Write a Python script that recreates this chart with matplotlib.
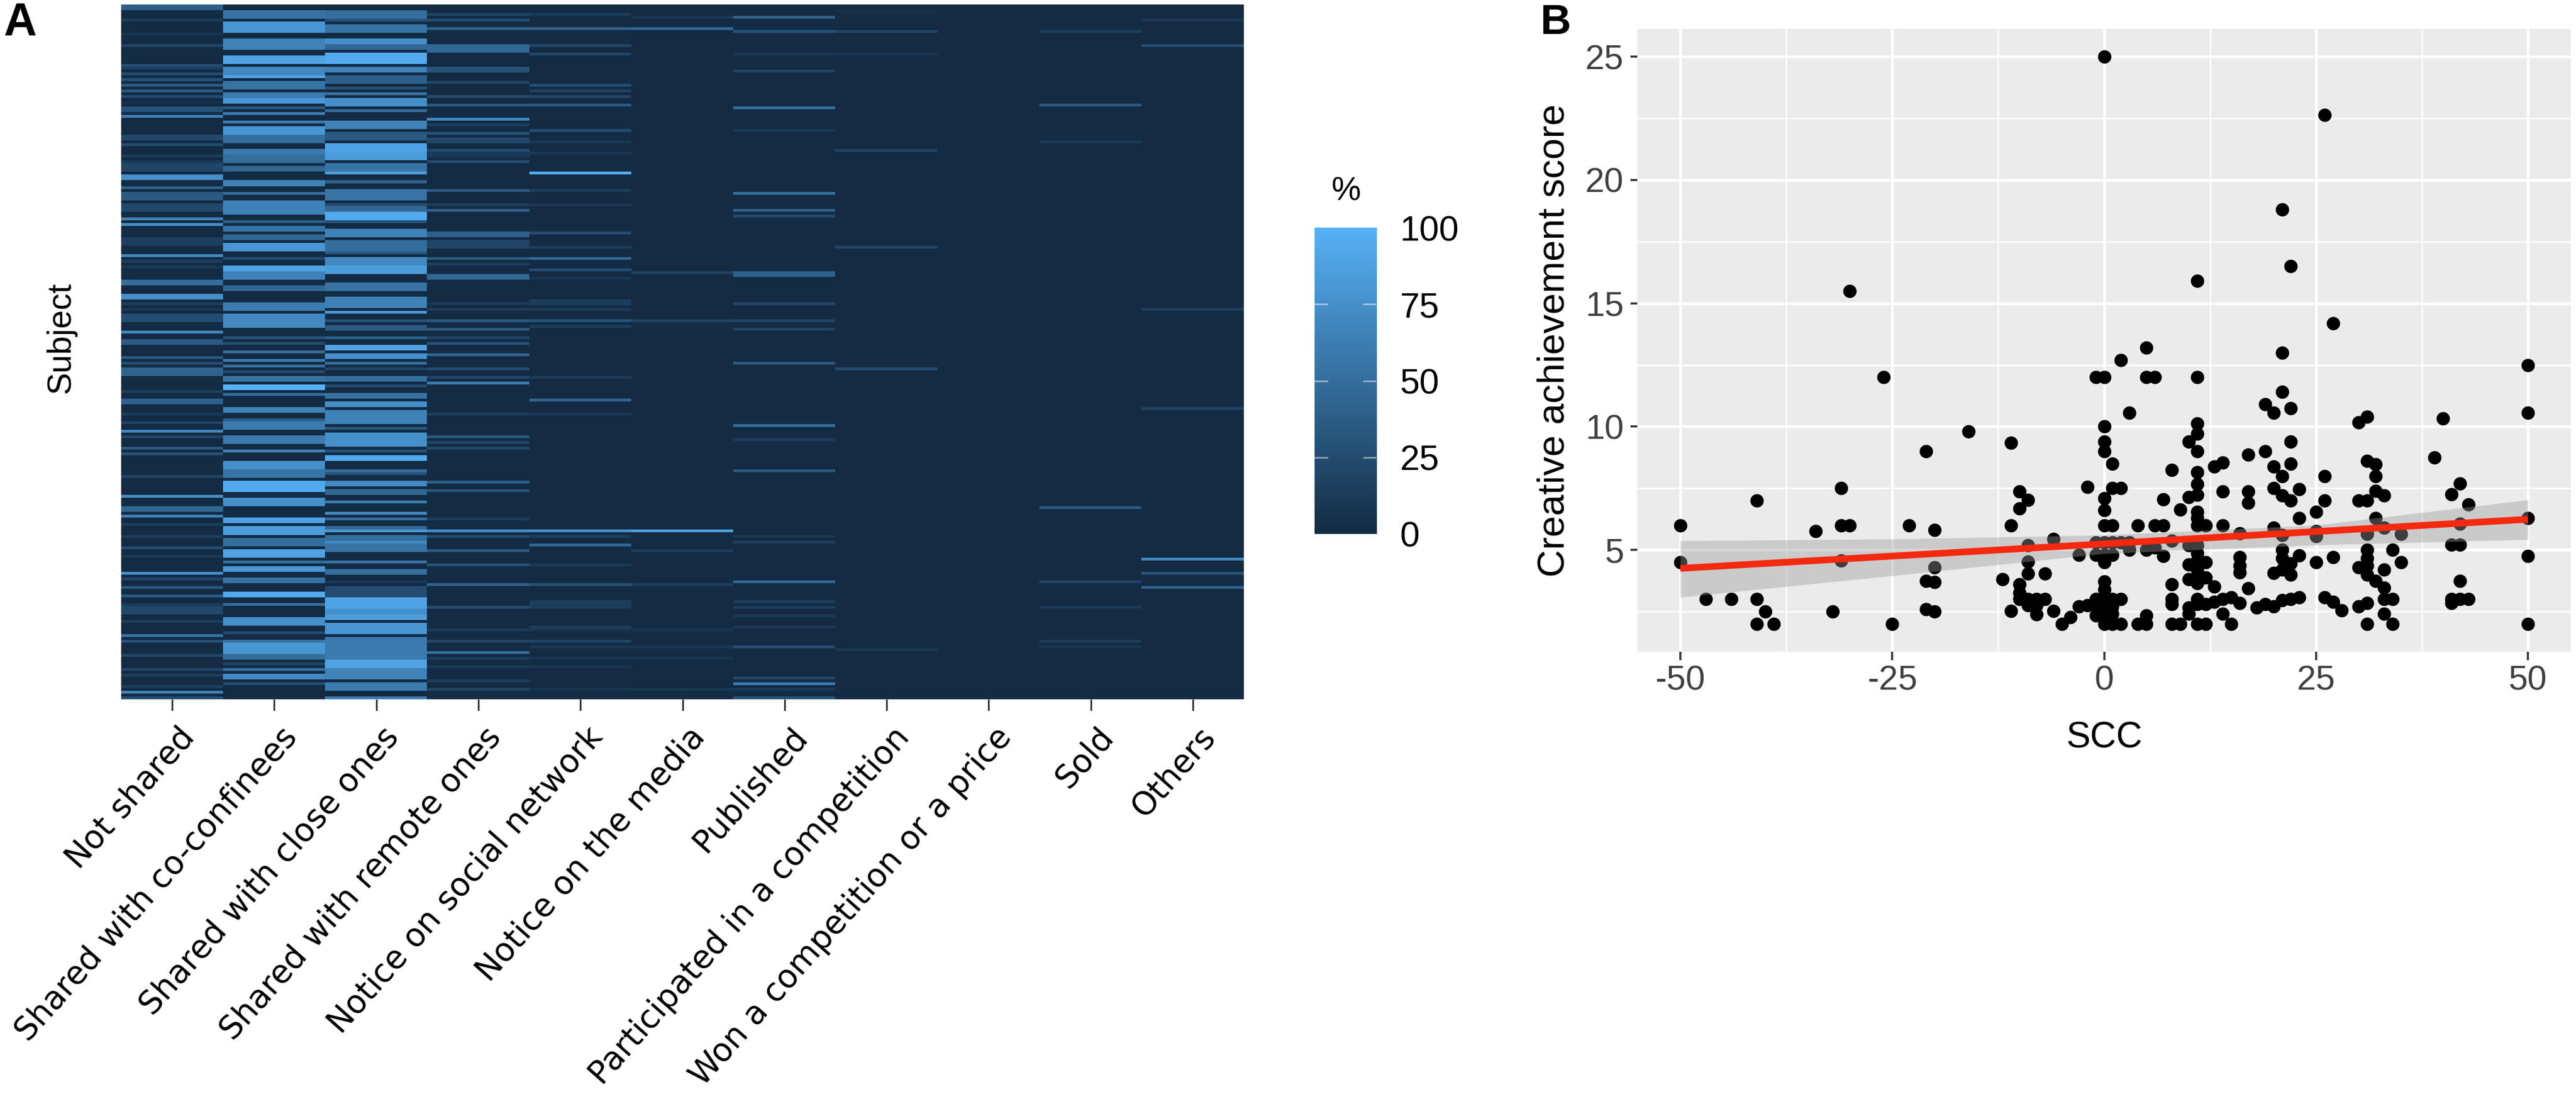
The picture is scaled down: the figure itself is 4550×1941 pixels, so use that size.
import numpy as np
from matplotlib import pyplot as plt
from matplotlib.colors import LinearSegmentedColormap
from matplotlib.transforms import ScaledTranslation

W, H = 4550, 1941
plt.rcParams['font.family'] = ['Liberation Sans', 'DejaVu Sans']

# panel A, stripes per column as (first subject, last subject, percent)
n_subjects = 245
categories = ['Not shared', 'Shared with co-confinees', 'Shared with close ones',
              'Shared with remote ones', 'Notice on social network', 'Notice on the media',
              'Published', 'Participated in a competition', 'Won a competition or a price',
              'Sold', 'Others']

not_shared = [(0,1,40),(5,5,15),(10,10,8),(14,14,20),(21,21,25),(22,22,15),(24,24,25),(26,26,30),
    (28,28,35),(30,30,35),(32,32,25),(34,34,5),(36,37,30),(39,39,65),(46,47,22),(49,49,25),(53,53,12),
    (55,55,12),(56,58,20),(60,61,75),(64,64,40),(66,68,35),(70,72,22),(75,75,65),(77,77,75),(82,84,15),
    (88,88,70),(90,90,15),(92,92,10),(97,98,50),(102,103,75),(105,105,15),(107,107,10),(109,111,25),
    (115,115,70),(118,119,35),(124,124,35),(126,126,25),(128,130,42),(136,136,15),(139,140,40),
    (144,144,12),(147,147,20),(150,150,70),(152,152,20),(156,156,35),(158,158,30),(166,166,20),
    (173,173,75),(177,178,45),(180,180,65),(183,183,15),(187,187,15),(191,191,25),(194,194,10),
    (200,200,75),(202,202,20),(205,205,35),(208,208,35),(211,211,12),(212,214,22),(217,217,15),
    (222,222,55),(224,224,30),(229,229,20),(234,234,20),(236,236,15),(240,240,15),(242,242,65),(244,244,25)]
shared_confinees = [(2,4,55),(6,9,80),(12,13,65),(14,15,65),(18,20,90),(22,24,70),(25,25,90),(27,29,55),
    (31,32,60),(33,34,80),(36,36,35),(38,38,60),(41,41,60),(43,45,80),(46,48,50),(51,52,60),(53,55,50),
    (57,58,45),(62,63,65),(66,66,50),(69,73,65),(76,76,40),(78,79,55),(81,82,45),(84,86,80),(89,89,25),
    (92,93,90),(94,96,65),(99,100,45),(105,107,60),(109,113,70),(117,117,30),(119,119,25),(122,122,50),
    (125,125,60),(127,127,50),(129,129,25),(131,132,55),(134,135,100),(137,137,50),(142,143,65),
    (146,146,40),(147,149,60),(152,154,60),(157,157,65),(161,163,75),(164,166,55),(168,171,95),
    (174,176,75),(181,182,90),(184,186,85),(188,190,50),(192,194,90),(196,196,50),(198,199,80),
    (202,203,55),(207,208,95),(211,211,50),(216,218,75),(221,221,25),(224,224,55),(225,228,80),
    (229,230,50),(232,232,20),(234,234,50),(236,237,70),(239,239,25)]
shared_close = [(2,4,50),(5,5,30),(7,9,55),(12,13,75),(14,15,45),(17,20,95),(22,23,65),(25,27,40),
    (29,29,30),(31,31,55),(33,35,75),(37,37,50),(41,43,65),(45,47,35),(49,51,90),(52,54,85),(56,58,55),
    (59,59,85),(62,62,40),(65,68,55),(70,70,25),(71,72,45),(73,75,95),(76,76,30),(79,81,65),(83,86,50),
    (87,87,35),(89,91,70),(92,94,85),(98,100,55),(103,106,65),(108,108,80),(111,111,30),(113,114,35),
    (117,117,40),(120,121,90),(123,124,75),(126,126,50),(128,128,20),(131,132,50),(134,134,25),
    (137,138,55),(140,141,75),(143,147,65),(149,149,35),(151,155,75),(157,157,30),(159,160,95),
    (164,164,50),(165,165,30),(168,169,70),(171,172,45),(175,175,60),(179,179,70),(181,181,50),
    (184,184,45),(185,185,80),(187,188,50),(189,189,70),(190,192,55),(196,196,55),(199,200,50),
    (203,203,10),(205,208,25),(209,212,90),(213,214,75),(215,216,85),(218,221,80),(223,230,60),
    (231,233,90),(234,237,65),(239,241,60),(244,244,60)]
shared_remote = [(3,3,18),(5,5,25),(8,8,40),(14,16,45),(22,23,30),(27,27,20),(32,32,25),(35,35,35),
    (40,40,70),(42,42,15),(45,45,30),(47,48,22),(51,51,25),(52,53,12),(55,55,25),(65,65,35),(70,70,15),
    (72,72,40),(80,81,40),(83,85,20),(89,89,35),(91,91,15),(95,96,45),(105,105,12),(107,107,15),
    (111,111,35),(114,114,35),(117,117,20),(119,119,30),(123,123,45),(128,128,25),(131,131,20),
    (133,133,60),(144,144,15),(152,152,35),(154,154,20),(156,156,22),(168,168,40),(171,171,30),
    (181,181,15),(185,185,70),(187,187,25),(192,192,35),(197,197,30),(204,204,40),(212,212,25),
    (220,220,12),(224,224,20),(228,228,50),(230,230,15),(233,233,12),(238,238,15),(241,241,20)]
social_network = [(3,3,12),(8,8,40),(14,14,20),(17,17,20),(28,28,25),(30,30,18),(32,32,22),(35,35,35),
    (44,44,25),(48,48,10),(52,52,10),(59,59,95),(65,65,15),(70,70,10),(80,80,25),(85,85,15),(89,89,45),
    (93,93,25),(96,96,8),(104,105,15),(107,107,12),(111,111,30),(113,113,15),(131,131,12),(139,139,45),
    (144,144,10),(185,185,75),(187,187,15),(190,190,45),(197,197,10),(204,204,30),(210,212,15),
    (219,219,15),(220,220,8),(224,224,20),(226,226,10),(230,230,8),(233,233,8),(241,241,8)]
media = [(4,4,10),(8,8,45),(94,94,18),(111,111,18),(185,185,85),(192,192,15),(204,204,15),(220,220,8),
    (226,226,10),(230,230,8),(241,241,10)]
published = [(4,4,40),(9,9,30),(17,17,10),(23,23,18),(36,36,50),(44,44,10),(66,66,50),(72,72,40),
    (74,74,25),(94,95,40),(105,105,20),(111,111,20),(114,114,18),(126,126,35),(148,148,50),(153,153,15),
    (164,164,35),(187,187,10),(189,189,15),(203,203,45),(210,210,15),(212,212,15),(215,215,12),
    (219,219,10),(226,226,25),(237,237,20),(239,239,60),(241,241,12),(244,244,30)]
competition = [(2,2,5),(9,9,20),(17,17,8),(51,51,18),(85,85,20),(128,128,25),(227,227,10)]
won = []
sold = [(9,9,15),(35,35,35),(48,48,10),(177,177,35),(203,203,20),(212,212,12),(224,224,15),(226,226,8)]
others = [(5,5,10),(14,14,25),(107,107,15),(142,142,18),(195,195,70),(200,200,30),(205,205,40)]

columns = [not_shared, shared_confinees, shared_close, shared_remote, social_network, media,
           published, competition, won, sold, others]
legend_ticks = [0, 25, 50, 75, 100]

# panel B, (SCC, creative achievement score)
left_points = [(-50,6),(-50,4.5),(-47,3),(-44,3),(-41,7),(-41,3),(-41,2),(-40,2.5),(-39,2),(-34,5.77),
    (-32,2.5),(-31,7.5),(-31,6),(-31,4.56),(-30,15.5),(-30,6),(-26,12),(-25,2),(-23,6),(-21,9),(-21,3.75),
    (-21,2.6),(-20,5.8),(-20,4.3),(-20,3.7),(-20,2.5),(-16,9.8),(-12,3.8),(-11,9.34),(-11,6),(-11,2.53),
    (-10,7.36),(-10,6.67),(-10,3.6),(-10,3.25),(-10,3),(-9,7.03),(-9,5.18),(-9,4.53),(-9,4.03),(-9,3),
    (-9,2.75),(-8,3),(-8,2.75),(-8,2.38),(-7,4.04),(-7,3),(-6,5.44),(-6,2.53),(-5,2),(-4,2.27),(-3,4.8),
    (-3,2.7),(-2,7.55),(-2,2.75)]
zero_points = [(-1,12),(-1,5.3),(-1,4.8),(-1,3),(-1,2.7),(-1,2.35),(0,25),(0,12),(0,10),(0,9.4),(0,9),
    (0,7.1),(0,6.6),(0,6),(0,5.3),(0,4.8),(0,4.5),(0,3.72),(0,3.4),(0,3),(0,2.7),(0,2.4),(0,2),(1,8.5),
    (1,7.5),(1,6),(1,5.3),(1,4.8),(1,3),(1,2.7),(1,2.4),(1,2),(2,12.7),(2,7.5),(2,5.3),(2,3),(2,2),
    (3,10.56),(3,5.3),(3,5),(4,6),(4,2),(5,13.2),(5,12),(5,5),(5,2.35),(5,2),(6,12),(6,6),(6,5.1),(7,7.05),
    (7,6),(7,4.75),(8,8.24),(8,5.37),(8,3.6),(8,3),(8,2.8),(8,2),(9,6.63),(9,2)]
mid_points = [(10,9.4),(10,7.13),(10,5.18),(10,4.4),(10,3.8),(10,2.65),(10,2.4),(11,15.9),(11,12),(11,10.13),
    (11,9.7),(11,9),(11,8.16),(11,7.66),(11,7.24),(11,6.55),(11,6.3),(11,6),(11,5.18),(11,4.87),(11,4.56),
    (11,4.2),(11,3.95),(11,3.65),(11,3),(11,2.8),(11,2),(12,6),(12,4.5),(12,3.87),(12,2.8),(12,2),(13,8.39),
    (13,3.5),(13,2.9),(14,8.54),(14,7.36),(14,6),(14,3),(14,2.4),(15,3.07),(15,2),(16,5.67),(16,4.7),
    (16,4.37),(16,4.08),(16,2.85),(17,8.85),(17,7.36),(17,6.9),(17,3.45),(18,2.65),(19,10.9),(19,9),(19,2.8),
    (20,10.56),(20,8.37),(20,7.5),(20,5.9),(20,4.06),(20,2.7),(21,18.8),(21,13),(21,11.4),(21,8),(21,7.2),
    (21,5.6),(21,5),(21,4.65),(21,4.2),(21,2.95),(22,16.5),(22,10.75),(22,9.4),(22,8.5),(22,7),(22,4.46),
    (22,4),(22,3),(23,7.46),(23,6.3),(23,4.77),(23,3.08)]
right_points = [(25,6.55),(25,5.75),(25,5.55),(25,4.5),(26,22.65),(26,8),(26,7),(26,3.08),(27,14.2),(27,4.7),
    (27,2.9),(28,2.55),(30,10.17),(30,7),(30,4.3),(30,2.7),(31,10.4),(31,8.6),(31,7),(31,5.65),(31,5),
    (31,4.65),(31,4.37),(31,4),(31,2.85),(31,2),(32,8.46),(32,8),(32,7.4),(32,6.3),(32,3.75),(33,7.2),
    (33,5.9),(33,4.2),(33,3.46),(33,3),(33,2.4),(34,5),(34,3),(34,2),(35,5.65),(35,4.5),(39,8.75),(40,10.34),
    (41,7.25),(41,5.2),(41,3),(41,2.85),(42,7.7),(42,6.05),(42,5.2),(42,3.75),(42,3),(43,6.85),(43,3),
    (50,12.5),(50,10.56),(50,6.3),(50,4.75),(50,2)]

scc, creative = zip(*(left_points + zero_points + mid_points + right_points))

fit_x = [-50, 50]
fit_y = [4.25, 6.24]
band_x = [-50, -25, 0, 25, 50]
band_low = [3.08, 3.95, 4.85, 5.2, 5.42]
band_high = [5.37, 5.44, 5.6, 6.0, 7.03]


def px_axes(left, top, right, bottom):
    return fig.add_axes([left/W, 1-bottom/H, (right-left)/W, (bottom-top)/H])


def fill_column(stripes):
    col = np.zeros(n_subjects)
    for first, last, pct in stripes:
        col[first:last+1] = pct
    return col


fig = plt.figure(figsize=(W/100, H/100), dpi=100)
heat_cmap = LinearSegmentedColormap.from_list('gg', ['#132B43', '#56B1F7'])

# heatmap
ax = px_axes(214, 8, 2197, 1235)
matrix = np.column_stack([fill_column(c) for c in columns])
ax.imshow(matrix, aspect='auto', cmap=heat_cmap, vmin=0, vmax=100, interpolation='nearest')
for s in ax.spines.values():
    s.set_visible(False)
ax.set_yticks([])
ax.set_xticks(range(len(categories)))
ax.set_xticklabels(categories, rotation=48.5, ha='right', va='top', rotation_mode='anchor',
                   family='DejaVu Sans', fontsize=41)
ax.tick_params(axis='x', length=14.5, width=2.2, color='#333333', pad=14)
for lab in ax.get_xticklabels():
    lab.set_transform(lab.get_transform() + ScaledTranslation(0.10, 0, fig.dpi_scale_trans))
ax.set_ylabel('Subject', fontsize=42.5, labelpad=57, y=0.52)

# legend
cax = px_axes(2322, 402, 2431, 943)
cax.imshow(np.linspace(100, 0, 256)[:, None], aspect='auto', cmap=heat_cmap, vmin=0, vmax=100,
           extent=[0, 1, 0, 100])
for s in cax.spines.values():
    s.set_visible(False)
cax.set_xticks([])
cax.yaxis.tick_right()
cax.set_yticks(legend_ticks)
cax.set_yticklabels(legend_ticks, fontsize=45)
cax.tick_params(axis='y', length=0, pad=30)
for v in legend_ticks[1:-1]:
    cax.plot([0, 0.2], [v, v], color='white', alpha=0.45, lw=2.2)
    cax.plot([0.8, 1], [v, v], color='white', alpha=0.45, lw=2.2)
cax.set_xlim(0, 1)
cax.set_ylim(0, 100)
fig.text(2378/W, 1-338/H, '%', fontsize=42, ha='center', va='center')

# scatter
ax2 = px_axes(2892, 51, 4541, 1151)
ax2.set_facecolor('#EBEBEB')
for s in ax2.spines.values():
    s.set_visible(False)
ax2.set_xlim(-55.07, 55.07)
ax2.set_ylim(0.87, 26.13)
ax2.set_xticks([-50, -25, 0, 25, 50])
ax2.set_xticklabels(['-50', '-25', '0', '25', '50'])
ax2.set_yticks([5, 10, 15, 20, 25])
ax2.set_xticks([-37.5, -12.5, 12.5, 37.5], minor=True)
ax2.set_yticks([2.5, 7.5, 12.5, 17.5, 22.5], minor=True)
ax2.grid(True, which='major', color='white', lw=3.4, zorder=1)
ax2.grid(True, which='minor', color='white', lw=1.8, zorder=1)
ax2.set_axisbelow(True)
ax2.tick_params(axis='x', which='major', length=11, width=2.6, color='#333333', labelsize=44,
                labelcolor='#404040', pad=6)
ax2.tick_params(axis='y', which='major', length=9, width=2.6, color='#333333', labelsize=44,
                labelcolor='#404040', pad=8)
ax2.tick_params(which='minor', length=0)
ax2.scatter(scc, creative, s=290, color='black', linewidths=0, zorder=3)
ax2.fill_between(band_x, band_low, band_high, color='#999999', alpha=0.4, linewidth=0, zorder=4)
ax2.plot(fit_x, fit_y, color='#F4290F', lw=8.5, solid_capstyle='butt', zorder=5)
ax2.set_xlabel('SCC', fontsize=46, labelpad=30)
ax2.set_ylabel('Creative achievement score', fontsize=48.5, labelpad=17)

fig.text(7/W, 1-62/H, 'A', fontsize=58, fontweight='bold', ha='left', va='baseline')
fig.text(2721/W, 1-60/H, 'B', fontsize=54, fontweight='bold', ha='left', va='baseline')

plt.savefig('out.png', dpi=100)
